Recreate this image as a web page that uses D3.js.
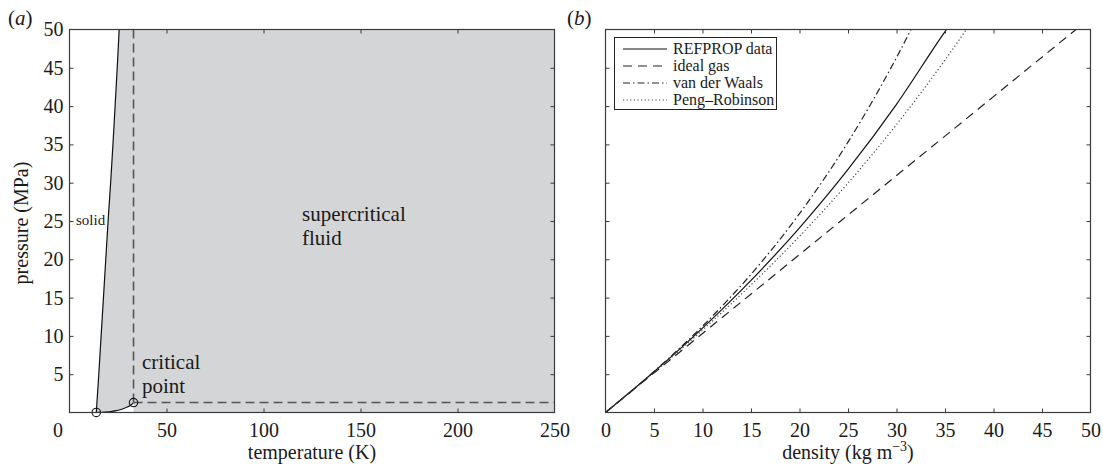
<!DOCTYPE html>
<html><head><meta charset="utf-8">
<script src="https://cdn.jsdelivr.net/npm/d3@7"></script>
<style>
html,body{margin:0;padding:0;background:#fff;}
svg text{font-family:'Liberation Serif','Tinos','Times New Roman','DejaVu Serif',serif !important;fill:#1a1a1a;}
</style></head>
<body><svg id="c" width="1103" height="464"></svg>
<script>
// ---------- data: panel (a) phase diagram (temperature K, pressure MPa)
const meltT = [13.8, 15.1, 16.3, 17.5, 18.7, 19.9, 21.2, 22.4, 23.5, 24.6, 25.6];
const meltP = [0.007, 5, 10, 15, 20, 25, 30, 35, 40, 45, 50];
const vapT = [13.8, 16, 18, 20, 22, 24, 26, 28, 30, 32, 33];
const vapP = [0.007, 0.02, 0.04, 0.09, 0.15, 0.24, 0.36, 0.53, 0.74, 1.05, 1.3];
const triplePoint = [13.8, 0.007];
const criticalPoint = [33, 1.3];
const xTicksA = [0, 50, 100, 150, 200, 250];
const yTicks = [5, 10, 15, 20, 25, 30, 35, 40, 45, 50];
// ---------- data: panel (b) pressure vs density
const densRef = [0, 5, 10, 15, 20, 25, 30, 35, 35.15];
const presRef = [0, 5.31, 11.02, 17.25, 24.11, 31.73, 40.23, 49.73, 50];
const densIdeal = [0, 10, 20, 30, 40, 48.5];
const presIdeal = [0, 10.31, 20.62, 30.93, 41.24, 50];
const densVdw = [0, 5, 10, 15, 20, 25, 30, 31.5];
const presVdw = [0, 5.35, 11.27, 18.04, 25.96, 35.30, 46.34, 50];
const densPR = [0, 5, 10, 15, 20, 25, 30, 35, 37.2];
const presPR = [0, 5.25, 10.76, 16.65, 23.01, 29.95, 37.59, 46.02, 50];
const xTicksB = [0, 5, 10, 15, 20, 25, 30, 35, 40, 45, 50];
const legendLabels = ["REFPROP data", "ideal gas", "van der Waals", "Peng\u2013Robinson"];

const svg = d3.select("#c");
const FS = 20;
const axisCol = "#3a3a3a";
const SERIF = "'Liberation Serif','Tinos','Times New Roman','DejaVu Serif',serif";

const xA = d3.scaleLinear([0, 250], [69.5, 554.5]);
const yA = d3.scaleLinear([0, 50], [412.5, 29.5]);
const xB = d3.scaleLinear([0, 50], [605.5, 1090.5]);
const yB = d3.scaleLinear([0, 50], [412.5, 29.5]);

function styleAxis(g) {
  g.attr("font-family", SERIF);
  g.select(".domain").remove();
  g.selectAll(".tick line").attr("stroke", axisCol);
  g.selectAll(".tick text").attr("font-size", FS).attr("font-family", SERIF).attr("fill", "#1a1a1a");
}

// ---------- panel (a)
const gA = svg.append("g");
const zip = (a, b) => a.map((v, i) => [v, b[i]]);
const melt = zip(meltT, meltP);
const vap = zip(vapT, vapP);
// gray supercritical/fluid region
const region = melt.slice().reverse().concat(vap).concat([[criticalPoint[0], 0], [250, 0], [250, 50]]);
gA.append("path")
  .attr("d", d3.line().x(d => xA(d[0])).y(d => yA(d[1]))(region) + "Z")
  .attr("fill", "#d4d5d7");

const lineA = d3.line().x(d => xA(d[0])).y(d => yA(d[1])).curve(d3.curveMonotoneY);
gA.append("path").attr("d", lineA(melt)).attr("fill", "none").attr("stroke", "#111").attr("stroke-width", 1.2);
gA.append("path").attr("d", d3.line().x(d => xA(d[0])).y(d => yA(d[1])).curve(d3.curveMonotoneX)(vap))
  .attr("fill", "none").attr("stroke", "#111").attr("stroke-width", 1.2);
// dashed critical lines
gA.append("line").attr("x1", xA(criticalPoint[0])).attr("x2", xA(criticalPoint[0]))
  .attr("y1", yA(criticalPoint[1])).attr("y2", yA(50))
  .attr("stroke", "#555").attr("stroke-width", 1.6).attr("stroke-dasharray", "9,5");
gA.append("line").attr("x1", xA(criticalPoint[0])).attr("x2", xA(250))
  .attr("y1", yA(criticalPoint[1])).attr("y2", yA(criticalPoint[1]))
  .attr("stroke", "#555").attr("stroke-width", 1.6).attr("stroke-dasharray", "9,5");
// circles
[triplePoint, criticalPoint].forEach(p => {
  gA.append("circle").attr("cx", xA(p[0])).attr("cy", yA(p[1])).attr("r", 4.2)
    .attr("fill", "none").attr("stroke", "#111").attr("stroke-width", 1.1);
});

// axes (a)
const axA_b = gA.append("g").attr("transform", "translate(0,412.5)")
  .call(d3.axisBottom(xA).tickValues(xTicksA).tickSize(-4).tickPadding(10).tickFormat(d3.format("d")));
styleAxis(axA_b);
axA_b.selectAll(".tick").filter(d => d === 0).select("text").attr("dx", -12);
axA_b.selectAll(".tick").filter(d => d === 0 || d === 250).select("line").remove();
const axA_t = gA.append("g").attr("transform", "translate(0,29.5)")
  .call(d3.axisTop(xA).tickValues([50, 100, 150, 200]).tickSize(-4).tickFormat(""));
styleAxis(axA_t);
const axA_l = gA.append("g").attr("transform", "translate(69.5,0)")
  .call(d3.axisLeft(yA).tickValues(yTicks).tickSize(-4).tickPadding(6).tickFormat(d3.format("d")));
styleAxis(axA_l);
axA_l.selectAll(".tick").filter(d => d === 50).select("line").remove();
const axA_r = gA.append("g").attr("transform", "translate(554.5,0)")
  .call(d3.axisRight(yA).tickValues(yTicks.filter(d => d < 50)).tickSize(-4).tickFormat(""));
styleAxis(axA_r);
gA.append("rect").attr("x", 69.5).attr("y", 29.5).attr("width", 485).attr("height", 383)
  .attr("fill", "none").attr("stroke", axisCol).attr("stroke-width", 1.2);

// texts (a)
gA.append("text").attr("x", 8).attr("y", 25).attr("font-size", 21).html('(<tspan font-style="italic">a</tspan>)');
gA.append("text").attr("x", 312).attr("y", 459).attr("text-anchor", "middle").attr("font-size", FS).text("temperature (K)");
gA.append("text").attr("transform", "translate(28,223) rotate(-90)").attr("text-anchor", "middle").attr("font-size", FS).text("pressure (MPa)");
gA.append("text").attr("x", 76).attr("y", 225).attr("font-size", 15).text("solid");
gA.append("text").attr("x", 302).attr("y", 221).attr("font-size", 21).text("supercritical");
gA.append("text").attr("x", 302).attr("y", 245).attr("font-size", 21).text("fluid");
gA.append("text").attr("x", 142).attr("y", 369).attr("font-size", 21).text("critical");
gA.append("text").attr("x", 142).attr("y", 393).attr("font-size", 21).text("point");

// ---------- panel (b)
const gB = svg.append("g");
const series = [
  {d: zip(densRef, presRef), dash: null, col: "#111", w: 1.2},
  {d: zip(densIdeal, presIdeal), dash: "9,6", col: "#222", w: 1.2},
  {d: zip(densVdw, presVdw), dash: "7,3,1.5,3", col: "#222", w: 1.2},
  {d: zip(densPR, presPR), dash: "1.2,2.4", col: "#444", w: 1.2}
];
const lineB = d3.line().x(d => xB(d[0])).y(d => yB(d[1])).curve(d3.curveMonotoneX);
gB.append("defs").append("clipPath").attr("id", "clipB").append("rect")
  .attr("x", 605.5).attr("y", 29.5).attr("width", 485).attr("height", 383);
series.forEach(s => {
  gB.append("path").attr("d", lineB(s.d)).attr("fill", "none").attr("stroke", s.col)
    .attr("stroke-width", s.w).attr("stroke-dasharray", s.dash).attr("clip-path", "url(#clipB)");
});

const axB_b = gB.append("g").attr("transform", "translate(0,412.5)")
  .call(d3.axisBottom(xB).tickValues(xTicksB).tickSize(-4).tickPadding(10).tickFormat(d3.format("d")));
styleAxis(axB_b);
axB_b.selectAll(".tick").filter(d => d === 0 || d === 50).select("line").remove();
const axB_t = gB.append("g").attr("transform", "translate(0,29.5)")
  .call(d3.axisTop(xB).tickValues(xTicksB.filter(d => d > 0 && d < 50)).tickSize(-4).tickFormat(""));
styleAxis(axB_t);
const axB_l = gB.append("g").attr("transform", "translate(605.5,0)")
  .call(d3.axisLeft(yB).tickValues(yTicks.filter(d => d < 50)).tickSize(-4).tickFormat(""));
styleAxis(axB_l);
const axB_r = gB.append("g").attr("transform", "translate(1090.5,0)")
  .call(d3.axisRight(yB).tickValues(yTicks.filter(d => d < 50)).tickSize(-4).tickFormat(""));
styleAxis(axB_r);
gB.append("rect").attr("x", 605.5).attr("y", 29.5).attr("width", 485).attr("height", 383)
  .attr("fill", "none").attr("stroke", axisCol).attr("stroke-width", 1.2);

// legend
const lg = gB.append("g");
lg.append("rect").attr("x", 614.5).attr("y", 37.5).attr("width", 162).attr("height", 72)
  .attr("fill", "#fff").attr("stroke", "#222").attr("stroke-width", 1);
legendLabels.forEach((lab, i) => {
  const y = 49 + i * 17;
  lg.append("line").attr("x1", 623).attr("x2", 667).attr("y1", y).attr("y2", y)
    .attr("stroke", series[i].col).attr("stroke-width", series[i].w).attr("stroke-dasharray", series[i].dash);
  lg.append("text").attr("x", 673).attr("y", y + 5).attr("font-size", 16).text(lab);
});

gB.append("text").attr("x", 567).attr("y", 25).attr("font-size", 21).html('(<tspan font-style="italic">b</tspan>)');
gB.append("text").attr("x", 848).attr("y", 459).attr("text-anchor", "middle").attr("font-size", FS)
  .html('density (kg m<tspan dy="-8" font-size="14">\u22123</tspan><tspan dy="8">)</tspan>');
</script></body></html>
